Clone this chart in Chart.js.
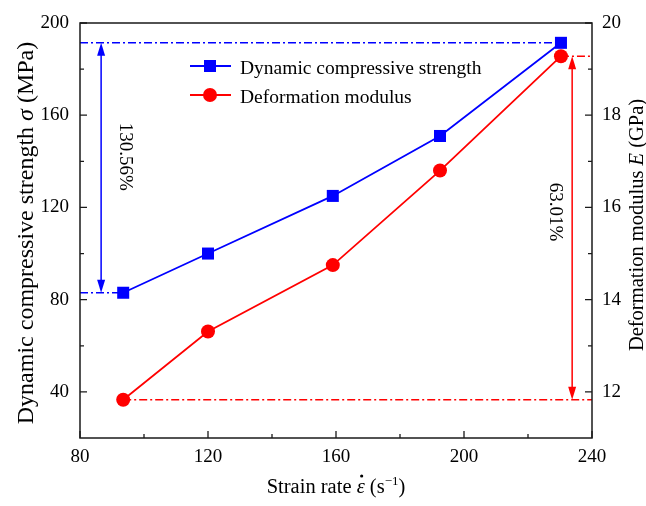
<!DOCTYPE html>
<html><head><meta charset="utf-8">
<script src="https://cdn.jsdelivr.net/npm/chart.js@4.4.0/dist/chart.umd.min.js"></script>
<style>html,body{margin:0;padding:0;background:#fff}canvas{display:block}</style>
</head><body>
<canvas id="c" width="646" height="506"></canvas>
<script>
// ---- data ----
const strainRate = [93.5, 120, 159, 192.5, 230.3];
const strength   = [83, 100, 125, 151, 191.4];      // MPa
const modulus    = [11.83, 13.31, 14.75, 16.8, 19.28]; // GPa
const xTicks     = [80, 120, 160, 200, 240];
const leftTicks  = [40, 80, 120, 160, 200];
const rightTicks = [12, 14, 16, 18, 20];
const xMinor     = [100, 140, 180, 220];
const leftMinor  = [60, 100, 140, 180];
const rightMinor = [13, 15, 17, 19];
const seriesNames = ['Dynamic compressive strength', 'Deformation modulus'];
const increaseLabels = ['130.56%', '63.01%'];

const BLUE = '#0000ff', RED = '#ff0000';
const serif = '"Liberation Serif","Times New Roman",serif';
const X_MIN = 80, X_MAX = 240, L_MIN = 20, L_MAX = 200, R_MIN = 11, R_MAX = 20;

const last = strainRate.length - 1;
const dashDot = [8, 3, 2, 3];

const refLine = (data, color, axis) => ({
  data, yAxisID: axis, borderColor: color, borderWidth: 1.5, borderDash: dashDot,
  pointRadius: 0, fill: false, order: 5, showLine: true
});

const datasets = [
  { label: seriesNames[0], data: strainRate.map((x, i) => ({x, y: strength[i]})), yAxisID: 'y',
    borderColor: BLUE, backgroundColor: BLUE, borderWidth: 1.8, pointStyle: 'rect', showLine: true,
    pointRadius: 8.5, pointBorderWidth: 0, order: 1, clip: false },
  { label: seriesNames[1], data: strainRate.map((x, i) => ({x, y: modulus[i]})), yAxisID: 'y1',
    borderColor: RED, backgroundColor: RED, borderWidth: 1.8, pointStyle: 'circle', showLine: true,
    pointRadius: 7, pointBorderWidth: 0, order: 2, clip: false },
  refLine([{x: X_MIN, y: strength[last]}, {x: strainRate[last], y: strength[last]}], BLUE, 'y'),
  refLine([{x: X_MIN, y: strength[0]}, {x: strainRate[0], y: strength[0]}], BLUE, 'y'),
  refLine([{x: strainRate[last], y: modulus[last]}, {x: X_MAX, y: modulus[last]}], RED, 'y1'),
  refLine([{x: strainRate[0], y: modulus[0]}, {x: X_MAX, y: modulus[0]}], RED, 'y1'),
];

function setTicks(list) { return s => { s.ticks = list.map(v => ({value: v})); }; }
const tickFont = {family: serif, size: 19};

function drawParts(ctx, parts, x, y) {
  let cx = x;
  for (const p of parts) {
    ctx.font = p.font;
    ctx.fillText(p.t, cx, y + (p.dy || 0));
    cx += ctx.measureText(p.t).width;
  }
  return cx;
}
function partsWidth(ctx, parts) {
  let w = 0;
  for (const p of parts) { ctx.font = p.font; w += ctx.measureText(p.t).width; }
  return w;
}

function arrow(ctx, x, y1, y2, color) {
  const hl = 13, hw = 4;
  ctx.strokeStyle = color; ctx.fillStyle = color; ctx.lineWidth = 1.5;
  ctx.beginPath(); ctx.moveTo(x, y1 + hl - 2); ctx.lineTo(x, y2 - hl + 2); ctx.stroke();
  ctx.beginPath(); ctx.moveTo(x, y1); ctx.lineTo(x - hw, y1 + hl); ctx.lineTo(x + hw, y1 + hl); ctx.closePath(); ctx.fill();
  ctx.beginPath(); ctx.moveTo(x, y2); ctx.lineTo(x - hw, y2 - hl); ctx.lineTo(x + hw, y2 - hl); ctx.closePath(); ctx.fill();
}

const decor = {
  id: 'decor',
  afterDraw(chart) {
    const ctx = chart.ctx, a = chart.chartArea;
    const sx = chart.scales.x, sl = chart.scales.y, sr = chart.scales.y1;
    ctx.save();
    // frame
    ctx.strokeStyle = '#1a1a1a'; ctx.lineWidth = 1.5;
    ctx.strokeRect(a.left, a.top, a.right - a.left, a.bottom - a.top);
    // inward ticks
    ctx.lineWidth = 1.3;
    ctx.beginPath();
    const major = 7, minor = 4;
    xTicks.forEach(v => { const p = sx.getPixelForValue(v); ctx.moveTo(p, a.bottom); ctx.lineTo(p, a.bottom - major); });
    xMinor.forEach(v => { const p = sx.getPixelForValue(v); ctx.moveTo(p, a.bottom); ctx.lineTo(p, a.bottom - minor); });
    leftTicks.forEach(v => { const p = sl.getPixelForValue(v); ctx.moveTo(a.left, p); ctx.lineTo(a.left + major, p); });
    leftMinor.forEach(v => { const p = sl.getPixelForValue(v); ctx.moveTo(a.left, p); ctx.lineTo(a.left + minor, p); });
    rightTicks.forEach(v => { const p = sr.getPixelForValue(v); ctx.moveTo(a.right, p); ctx.lineTo(a.right - major, p); });
    rightMinor.forEach(v => { const p = sr.getPixelForValue(v); ctx.moveTo(a.right, p); ctx.lineTo(a.right - minor, p); });
    ctx.stroke();

    // arrows
    arrow(ctx, sx.getPixelForValue(86.6), sl.getPixelForValue(strength[last]), sl.getPixelForValue(strength[0]), BLUE);
    arrow(ctx, sx.getPixelForValue(233.8), sr.getPixelForValue(modulus[last]), sr.getPixelForValue(modulus[0]), RED);

    // rotated percentage labels
    ctx.fillStyle = '#000';
    ctx.font = '19px ' + serif; ctx.textAlign = 'center'; ctx.textBaseline = 'middle';
    [[increaseLabels[0], sx.getPixelForValue(94), sl.getPixelForValue(142)],
     [increaseLabels[1], sx.getPixelForValue(228.4), sr.getPixelForValue(15.9)]].forEach(([t, x, y]) => {
      ctx.save(); ctx.translate(x, y); ctx.rotate(Math.PI / 2); ctx.fillText(t, 0, 0); ctx.restore();
    });

    // legend
    ctx.textAlign = 'left'; ctx.textBaseline = 'alphabetic';
    const lg = [[BLUE, 'rect', 66, 74], [RED, 'circle', 95, 103]];
    lg.forEach(([c, st, y, by], i) => {
      ctx.strokeStyle = c; ctx.fillStyle = c; ctx.lineWidth = 1.8;
      ctx.beginPath(); ctx.moveTo(190, y); ctx.lineTo(231, y); ctx.stroke();
      ctx.beginPath();
      if (st === 'rect') ctx.rect(204, y - 6, 12, 12); else ctx.arc(210, y, 7, 0, Math.PI * 2);
      ctx.fill();
      ctx.fillStyle = '#000'; ctx.font = '19.5px ' + serif;
      ctx.fillText(seriesNames[i], 240, by);
    });

    // axis titles
    ctx.fillStyle = '#000';
    const n = s => s + 'px ' + serif, it = s => 'italic ' + s + 'px ' + serif;
    const xs = 20.5;
    const xParts = [{t: 'Strain rate ', font: n(xs)}, {t: 'ε', font: it(xs)}, {t: ' (s', font: n(xs)},
                    {t: '−1', font: n(13), dy: -8}, {t: ')', font: n(xs)}];
    const xw = partsWidth(ctx, xParts);
    const xc = (a.left + a.right) / 2;
    let cx = xc - xw / 2;
    ctx.font = n(xs); const w1 = ctx.measureText('Strain rate ').width;
    ctx.font = it(xs); const we = ctx.measureText('ε').width;
    drawParts(ctx, xParts, cx, 493);
    ctx.beginPath(); ctx.arc(cx + w1 + we / 2 + 1, 493 - 17, 1.6, 0, Math.PI * 2); ctx.fill();

    const ls = 24;
    const lParts = [{t: 'Dynamic compressive strength ', font: n(ls)}, {t: 'σ', font: it(ls)}, {t: ' (MPa)', font: n(ls)}];
    ctx.save(); ctx.translate(33, 233); ctx.rotate(-Math.PI / 2);
    drawParts(ctx, lParts, -partsWidth(ctx, lParts) / 2, 0); ctx.restore();

    const rs = 20.5;
    const rParts = [{t: 'Deformation modulus ', font: n(rs)}, {t: 'E', font: it(rs)}, {t: ' (GPa)', font: n(rs)}];
    ctx.save(); ctx.translate(643, 225); ctx.rotate(-Math.PI / 2);
    drawParts(ctx, rParts, -partsWidth(ctx, rParts) / 2, 0); ctx.restore();

    ctx.restore();
  }
};

new Chart(document.getElementById('c'), {
  type: 'scatter',
  data: { datasets },
  options: {
    responsive: false, animation: false,
    layout: { padding: { top: 23, left: 0, right: 0, bottom: 0 } },
    plugins: { legend: { display: false }, tooltip: { enabled: false } },
    elements: { line: { tension: 0 } },
    scales: {
      x: { type: 'linear', min: X_MIN, max: X_MAX, afterBuildTicks: setTicks(xTicks),
           afterFit: s => { s.height = 68; },
           grid: { display: false, drawTicks: false }, border: { display: false },
           ticks: { font: tickFont, color: '#000', padding: 8, maxRotation: 0 } },
      y: { position: 'left', min: L_MIN, max: L_MAX, afterBuildTicks: setTicks(leftTicks),
           afterFit: s => { s.width = 80; },
           grid: { display: false, drawTicks: false }, border: { display: false },
           ticks: { font: tickFont, color: '#000', padding: 11 } },
      y1: { position: 'right', min: R_MIN, max: R_MAX, afterBuildTicks: setTicks(rightTicks),
           afterFit: s => { s.width = 54; },
           grid: { display: false, drawTicks: false }, border: { display: false },
           ticks: { font: tickFont, color: '#000', padding: 10 } }
    }
  },
  plugins: [decor]
});
</script>
</body></html>
